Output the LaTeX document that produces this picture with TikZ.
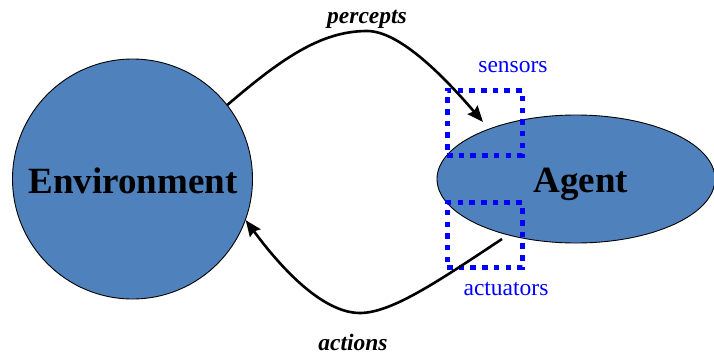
\documentclass[tikz,border=0pt]{standalone}
\usepackage{fontspec}
\setmainfont{Liberation Serif}
\usetikzlibrary{shapes.geometric,arrows.meta}
\definecolor{bodyblue}{RGB}{79,129,189}
\definecolor{portblue}{RGB}{0,0,255}
\tikzset{
  body/.style={draw=black, line width=0.9pt, fill=bodyblue, inner sep=0pt},
  bigtext/.style={font=\fontsize{37}{40}\selectfont\bfseries, anchor=base},
  flowtext/.style={font=\fontsize{23.5}{26}\selectfont\bfseries\itshape, anchor=base},
  porttext/.style={font=\fontsize{23.5}{26}\selectfont, text=portblue, anchor=base},
  portbox/.style={draw=portblue, line width=5pt, dash pattern=on 5.5pt off 6.2pt,
    minimum width=75pt, minimum height=65pt, inner sep=0pt},
  flow/.style={draw=black, line width=2.6pt, -{Stealth[length=16pt,width=13pt,inset=2pt]}}
}
\begin{document}
\begin{tikzpicture}[x=1pt,y=-1pt]
  \useasboundingbox (0,0) rectangle (714,356);
  % environment and agent bodies
  \node[body, circle, minimum size=240pt] (env) at (132.5,179) {};
  \node[body, ellipse, minimum width=278pt, minimum height=128pt] (agent) at (576,179) {};
  \node[bigtext] (envlabel) at (133,193) {Environment};
  \node[bigtext] (agentlabel) at (581,192) {Agent};
  % sensor and actuator ports
  \node[portbox] (sensors) at (484.5,122.5) {};
  \node[portbox] (actuators) at (484.5,235) {};
  \node[porttext] (sensorslabel) at (513,72) {sensors};
  \node[porttext] (actuatorslabel) at (506,295) {actuators};
  % percepts and actions
  \coordinate (pin) at (483,122);
  \coordinate (aout) at (502,239);
  \draw[flow] (env.38.5) .. controls (280,60) and (320,31) .. (367,31)
    .. controls (398,31) and (440,72) .. (pin);
  \draw[flow] (aout) .. controls (440,280) and (392,313) .. (360,313)
    .. controls (328,313) and (290,280) .. (env.-20.6);
  \node[flowtext] (perceptslabel) at (367,23) {percepts};
  \node[flowtext] (actionslabel) at (353,350) {actions};
\end{tikzpicture}
\end{document}
